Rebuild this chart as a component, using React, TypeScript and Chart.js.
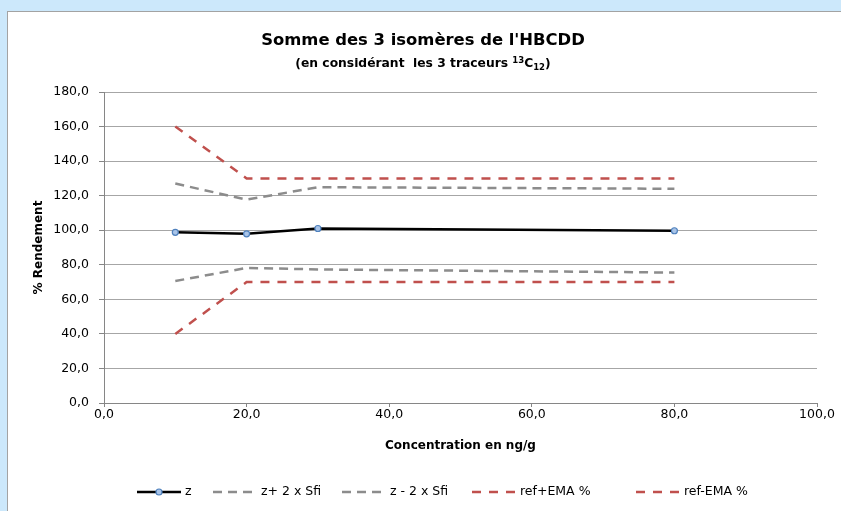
import React, { useEffect, useRef } from "react";
import { Chart, registerables } from "chart.js";

Chart.register(...registerables);

// ---- Data ----
const concentrations = [10, 20, 30, 80];
const zValues = [98.8, 97.9, 101.0, 99.7];
const zPlus2Sfi = [127.0, 117.7, 124.9, 124.0];
const zMinus2Sfi = [70.6, 78.2, 77.3, 75.5];
const refPlusEMA = [160, 130, 130, 130];
const refMinusEMA = [40, 70, 70, 70];
const seriesNames = ["z", "z+ 2 x Sfi", "z - 2 x Sfi", "ref+EMA %", "ref-EMA %"];

const titleText = "Somme des 3 isomères de l'HBCDD";
const subtitleParts = ["(en considérant  les 3 traceurs ", "13", "C", "12", ")"];
const xTitle = "Concentration en ng/g";
const yTitle = "% Rendement";

const FONT = "'DejaVu Sans', sans-serif";

// legend item start positions (layout)
const legendStarts = [137, 213, 342, 472, 636];

const fmt = (v: number | string) => Number(v).toFixed(1).replace(".", ",");

const toPoints = (ys: number[]) => concentrations.map((x, i) => ({ x, y: ys[i] }));

const titlePlugin = {
  id: "customTitle",
  afterDraw(chart: any) {
    const ctx = chart.ctx as CanvasRenderingContext2D;
    const cx = 423;
    ctx.save();
    ctx.fillStyle = "#000";
    ctx.textBaseline = "alphabetic";
    ctx.font = `bold 16.4px ${FONT}`;
    ctx.textAlign = "center";
    ctx.fillText(titleText, cx, 45);

    // subtitle with superscript / subscript
    const big = `bold 12.3px ${FONT}`;
    const small = `bold 8.5px ${FONT}`;
    const fonts = [big, small, big, small, big];
    const offs = [0, -4.5, 0, 2.5, 0];
    let total = 0;
    const widths = subtitleParts.map((t, i) => {
      ctx.font = fonts[i];
      const w = ctx.measureText(t).width;
      total += w;
      return w;
    });
    let x = cx - total / 2;
    ctx.textAlign = "left";
    subtitleParts.forEach((t, i) => {
      ctx.font = fonts[i];
      ctx.fillText(t, x, 67 + offs[i]);
      x += widths[i];
    });
    ctx.restore();
  },
};

const legendPlugin = {
  id: "customLegend",
  afterDraw(chart: any) {
    const ctx = chart.ctx as CanvasRenderingContext2D;
    const y = 492;
    const lineLen = 44;
    const textGap = 4;
    ctx.save();
    ctx.font = `12.5px ${FONT}`;
    const dsets = chart.data.datasets;
    dsets.forEach((d: any, i: number) => {
      const x = legendStarts[i];
      ctx.strokeStyle = d.borderColor;
      ctx.lineWidth = d.borderWidth;
      ctx.setLineDash(d.borderDash || []);
      ctx.beginPath();
      ctx.moveTo(x, y);
      ctx.lineTo(x + lineLen, y);
      ctx.stroke();
      ctx.setLineDash([]);
      if (d.pointRadius > 0) {
        ctx.beginPath();
        ctx.arc(x + lineLen / 2, y, d.pointRadius, 0, Math.PI * 2);
        ctx.fillStyle = d.pointBackgroundColor;
        ctx.fill();
        ctx.lineWidth = d.pointBorderWidth;
        ctx.strokeStyle = d.pointBorderColor;
        ctx.stroke();
      }
      ctx.fillStyle = "#000";
      ctx.textBaseline = "middle";
      ctx.textAlign = "left";
      ctx.fillText(d.label, x + lineLen + textGap, y);
    });
    ctx.restore();
  },
};

export default function App() {
  const ref = useRef<HTMLCanvasElement>(null);

  useEffect(() => {
    const canvas = ref.current;
    if (!canvas) return;
    const grayDash = [9, 6];
    const redDash = [9, 8];
    const chart = new Chart(canvas, {
      type: "line",
      data: {
        datasets: [
          {
            label: seriesNames[0],
            data: toPoints(zValues),
            borderColor: "#000000",
            borderWidth: 2.5,
            pointRadius: 3,
            pointBackgroundColor: "#a9c4e8",
            pointBorderColor: "#4f81bd",
            pointBorderWidth: 1.2,
            tension: 0,
          },
          {
            label: seriesNames[1],
            data: toPoints(zPlus2Sfi),
            borderColor: "#8c8c8c",
            borderWidth: 2.5,
            borderDash: grayDash,
            pointRadius: 0,
          },
          {
            label: seriesNames[2],
            data: toPoints(zMinus2Sfi),
            borderColor: "#8c8c8c",
            borderWidth: 2.5,
            borderDash: grayDash,
            pointRadius: 0,
          },
          {
            label: seriesNames[3],
            data: toPoints(refPlusEMA),
            borderColor: "#c0504d",
            borderWidth: 2.5,
            borderDash: redDash,
            pointRadius: 0,
          },
          {
            label: seriesNames[4],
            data: toPoints(refMinusEMA),
            borderColor: "#c0504d",
            borderWidth: 2.5,
            borderDash: redDash,
            pointRadius: 0,
          },
        ] as any,
      },
      options: {
        responsive: false,
        animation: false,
        layout: { padding: { left: 0, right: 24, top: 92, bottom: 0 } },
        plugins: {
          legend: { display: false },
          title: { display: false },
          tooltip: { enabled: false },
        },
        scales: {
          x: {
            type: "linear",
            min: 0,
            max: 100,
            ticks: {
              stepSize: 20,
              callback: (v: any) => fmt(v),
              font: { family: FONT, size: 12.5 },
              color: "#000",
              padding: 0,
              maxRotation: 0,
            },
            grid: { drawOnChartArea: false, tickLength: 4, color: "#868686" },
            border: { color: "#868686", width: 1 },
            title: {
              display: true,
              text: xTitle,
              color: "#000",
              font: { family: FONT, size: 12, weight: "bold" },
              padding: { top: 0, bottom: 58 },
            },
            afterFit: (s: any) => {
              s.height = 108;
            },
          },
          y: {
            min: 0,
            max: 180,
            ticks: {
              stepSize: 20,
              callback: (v: any) => fmt(v),
              font: { family: FONT, size: 12.5 },
              color: "#000",
              padding: 10,
            },
            grid: { color: "#a6a6a6", tickLength: 5, tickColor: "#868686" },
            border: { color: "#868686", width: 1 },
            title: {
              display: true,
              text: yTitle,
              color: "#000",
              font: { family: FONT, size: 12, weight: "bold" },
              padding: { top: 32, bottom: 0 },
            },
            afterFit: (s: any) => {
              s.width = 104;
            },
          },
        },
      } as any,
      plugins: [titlePlugin, legendPlugin],
    });
    return () => chart.destroy();
  }, []);

  return (
    <div
      style={{
        position: "fixed",
        left: 0,
        top: 0,
        width: 841,
        height: 511,
        background: "#cce8fb",
        overflow: "hidden",
      }}
    >
      <div
        style={{
          position: "absolute",
          left: 7,
          top: 11,
          right: -10,
          bottom: -10,
          background: "#ffffff",
          borderLeft: "1.5px solid #a3a3a3",
          borderTop: "1.5px solid #a3a3a3",
        }}
      />
      <canvas
        ref={ref}
        width={841}
        height={511}
        style={{ position: "absolute", left: 0, top: 0, width: 841, height: 511 }}
      />
    </div>
  );
}
